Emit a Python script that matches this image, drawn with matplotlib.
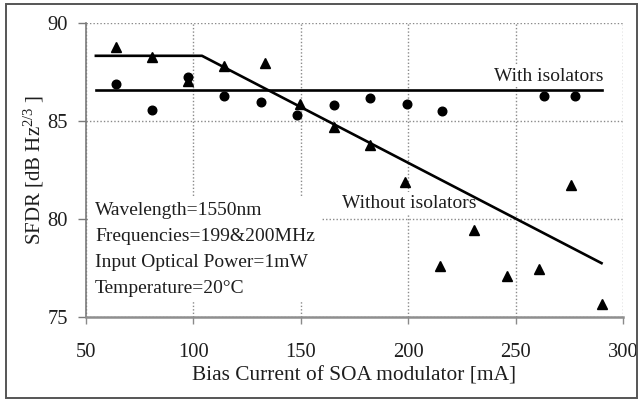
import matplotlib
matplotlib.use("Agg")
import matplotlib.pyplot as plt
from matplotlib.patches import Rectangle

plt.rcParams['font.family'] = ['Liberation Serif', 'DejaVu Serif']
plt.rcParams['mathtext.fontset'] = 'custom'
plt.rcParams['mathtext.rm'] = 'Liberation Serif'
plt.rcParams['mathtext.default'] = 'regular'

# ---- data ----
x_with = [63.8, 80.5, 97.5, 114.1, 131.3, 148.2, 165.6, 182.3, 199.3, 215.8, 263.0, 277.7]
y_with = [86.9, 85.58, 87.24, 86.3, 85.97, 85.32, 85.81, 86.19, 85.9, 85.5, 86.27, 86.27]

x_without = [63.8, 80.5, 97.5, 114.1, 133.5, 149.8, 165.6, 182.0, 198.7, 215.0,
             230.8, 246.2, 261.0, 276.0, 290.4]
y_without = [88.81, 88.27, 87.03, 87.8, 87.97, 85.88, 84.72, 83.77, 81.87, 77.6,
             79.46, 77.1, 77.46, 81.73, 75.65]

fit_with_x = [54.6, 290.0]
fit_with_y = [86.61, 86.61]
fit_without_x = [54.6, 104.0, 290.0]
fit_without_y = [88.34, 88.34, 77.75]

x_ticks = [50, 100, 150, 200, 250, 300]
y_ticks = [75, 80, 85, 90]

info_lines = ["Wavelength=1550nm", "Frequencies=199&200MHz",
              "Input Optical Power=1mW", "Temperature=20°C"]

txt = '#1e1e1e'
fig = plt.figure(figsize=(6.42, 4.0), dpi=100)
ax = fig.add_axes([86/642, 1-317/400, (623-86)/642, (317-23.3)/400])

ax.set_xlim(50, 300)
ax.set_ylim(75, 90)
ax.set_xticks(x_ticks)
ax.set_yticks(y_ticks)
ax.set_axisbelow(True)
ax.grid(True, linestyle=(0, (1, 1.5)), color='#8a8a8a', linewidth=1.0)

for s in ['top', 'right']:
    ax.spines[s].set_visible(False)
ax.spines['left'].set_color('#7a7a7a')
ax.spines['left'].set_linewidth(1.2)
ax.spines['bottom'].set_color('#8f8f8f')
ax.spines['bottom'].set_linewidth(1.8)

ax.tick_params(axis='y', direction='out', length=6, width=1, color='#7a7a7a',
               pad=7, labelsize=14.8, labelcolor=txt)
ax.tick_params(axis='x', direction='out', length=5, width=1, color='#8a8a8a',
               pad=14, labelsize=14.8, labelcolor=txt)

ax.plot(fit_with_x, fit_with_y, color='black', lw=1.9, zorder=3)
ax.plot(fit_without_x, fit_without_y, color='black', lw=1.9, zorder=3)
ax.plot(x_with, y_with, 'o', color='black', markersize=6.2, zorder=4)
ax.plot(x_without, y_without, '^', color='black', markersize=6.8, zorder=4)

ax.text(290.7, 87.27, "With isolators", ha='right', va='center', fontsize=14,
        color=txt, zorder=2, bbox=dict(facecolor='white', edgecolor='none', pad=1.5))
ax.text(169.0, 80.82, "Without isolators", ha='left', va='center', fontsize=14,
        color=txt, zorder=2, bbox=dict(facecolor='white', edgecolor='none', pad=1.5))

ax.text(54.2, 80.85, "\n".join(info_lines), ha='left', va='top', fontsize=14,
        color=txt, linespacing=1.67, zorder=2,
        bbox=dict(facecolor='white', edgecolor='none', pad=4))

ax.set_xlabel("Bias Current of SOA modulator [mA]", fontsize=15.4, color=txt, labelpad=3)
ax.set_ylabel("SFDR [dB Hz$^{2/3}$ ]", fontsize=15, color=txt, labelpad=1)

fig.patches.append(Rectangle((6/642, 1-398/400), (637-6)/642, (398-3.5)/400,
                             transform=fig.transFigure, fill=False,
                             edgecolor='#555555', linewidth=1.4))

fig.savefig("out.png", dpi=100)
